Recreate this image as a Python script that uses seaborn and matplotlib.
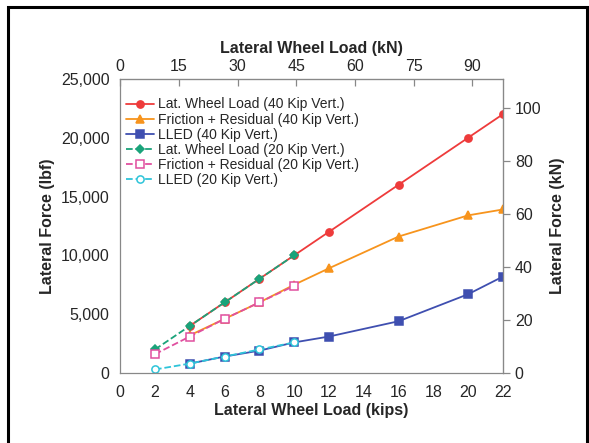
import numpy as np
import pandas as pd
import matplotlib
matplotlib.use("Agg")
import matplotlib.pyplot as plt
import matplotlib.ticker as mticker
from matplotlib.patches import Rectangle
import seaborn as sns

## data (kips / lbf)
load_40 = [4, 6, 8, 10, 12, 16, 20, 22]
lat_40 = [4000, 6000, 8000, 10000, 12000, 16000, 20000, 22000]
fric_40 = [3200, 4600, 6000, 7500, 8900, 11600, 13400, 13900]
lled_40 = [800, 1400, 1900, 2600, 3100, 4400, 6700, 8200]

load_20 = [2, 4, 6, 8, 10]
lat_20 = [2000, 4000, 6000, 8000, 10000]
fric_20 = [1600, 3100, 4600, 6000, 7400]
lled_20 = [300, 800, 1400, 2000, 2600]

KN = 4.44822

sns.set_style("white")
plt.rcParams['font.family'] = ['Liberation Sans', 'DejaVu Sans']

fig = plt.figure(figsize=(5.89, 4.43), dpi=100)
ax = fig.add_axes([0.204, 0.158, 0.650, 0.664])

series = [
    (load_40, lat_40, "Lat. Wheel Load (40 Kip Vert.)", "#ee3b3b", "o", "-", True),
    (load_40, fric_40, "Friction + Residual (40 Kip Vert.)", "#f7941d", "^", "-", True),
    (load_40, lled_40, "LLED (40 Kip Vert.)", "#3f4fb0", "s", "-", True),
    (load_20, lat_20, "Lat. Wheel Load (20 Kip Vert.)", "#1aa37a", "D", "--", True),
    (load_20, fric_20, "Friction + Residual (20 Kip Vert.)", "#e04f9f", "s", "--", False),
    (load_20, lled_20, "LLED (20 Kip Vert.)", "#2ec4d9", "o", "--", False),
]

for x, y, name, col, mk, ls, filled in series:
    sns.lineplot(x=x, y=y, ax=ax, label=name, color=col, linestyle=ls,
                 linewidth=1.3, marker=mk, markersize=5.2 if mk != "D" else 4.3,
                 markeredgecolor=col, markeredgewidth=1.1,
                 markerfacecolor=col if filled else "white")

ax.set_xlim(0, 22)
ax.set_ylim(0, 25000)
ax.set_xticks(range(0, 23, 2))
ax.set_yticks(range(0, 25001, 5000))
ax.yaxis.set_major_formatter(mticker.StrMethodFormatter("{x:,.0f}"))
ax.set_xlabel("Lateral Wheel Load (kips)", fontsize=11.5, fontweight="bold", labelpad=2)
ax.set_ylabel("Lateral Force (lbf)", fontsize=11.5, fontweight="bold", labelpad=4)
ax.tick_params(axis="both", labelsize=11.5, color="#888888", length=5, width=0.9)
ax.tick_params(axis="y", direction="inout", length=8)

for s in ax.spines.values():
    s.set_color("#888888")
    s.set_linewidth(0.9)

top = ax.secondary_xaxis("top", functions=(lambda v: v * KN, lambda v: v / KN))
top.set_xticks(range(0, 91, 15))
top.set_xlabel("Lateral Wheel Load (kN)", fontsize=11.5, fontweight="bold", labelpad=4)
top.tick_params(labelsize=11.5, color="#888888", direction="in", length=5, width=0.9)
top.spines["top"].set_color("#888888")

right = ax.secondary_yaxis("right", functions=(lambda v: v * KN / 1000, lambda v: v * 1000 / KN))
right.set_yticks(range(0, 101, 20))
right.set_ylabel("Lateral Force (kN)", fontsize=11.5, fontweight="bold", labelpad=6)
right.tick_params(labelsize=11.5, color="#888888", direction="out", length=5, width=0.9)
right.spines["right"].set_color("#888888")

ax.legend(loc="upper left", bbox_to_anchor=(-0.01, 0.97), frameon=False,
          fontsize=10, handlelength=2.0, handletextpad=0.3, labelspacing=0.08,
          borderaxespad=0.3)

# outer frame of the original figure
fig.patches.append(Rectangle((8 / 589, -0.05), 579 / 589, 1 - 7 / 443 + 0.05,
                             transform=fig.transFigure, fill=False,
                             edgecolor="black", linewidth=2.2))

plt.savefig("out.png", dpi=100)
